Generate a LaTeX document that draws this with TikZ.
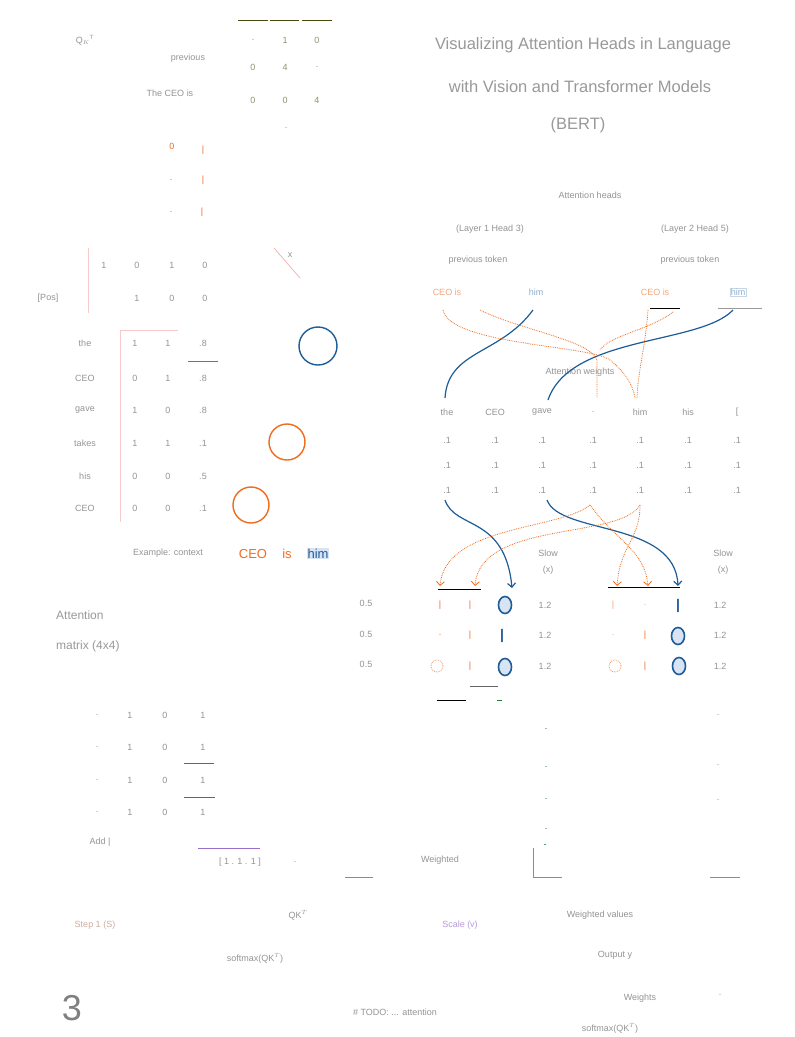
\documentclass[tikz,border=0pt]{standalone}
\usepackage{fontspec}
\setmainfont{Liberation Sans}
\usetikzlibrary{arrows.meta}
\definecolor{orn}{HTML}{F26B1D}
\definecolor{blu}{HTML}{1D5C97}
\definecolor{lblu}{HTML}{D8E3F4}
\definecolor{olv}{HTML}{4A4A10}
\definecolor{pnk}{HTML}{F6CACA}
\definecolor{prp}{HTML}{9A6FC8}
\definecolor{grn}{HTML}{1E7A3A}
\tikzset{
  faint/.style={text=black!42, font=\fontsize{9}{10}\selectfont, inner sep=1pt},
  faintl/.style={text=black!40, font=\fontsize{12}{14}\selectfont, inner sep=1pt},
  otxt/.style={text=orn, font=\fontsize{9}{10}\selectfont, inner sep=1pt},
  ocirc/.style={draw=orn, line width=1.4pt, circle, minimum size=36pt, inner sep=0pt},
  bcirc/.style={draw=blu, line width=1.4pt, circle, minimum size=38pt, inner sep=0pt},
  bzero/.style={draw=blu, line width=1.6pt, fill=lblu, ellipse, minimum width=13pt, minimum height=17pt, inner sep=0pt},
  ozero/.style={draw=orn!70, line width=0.8pt, densely dotted, ellipse, minimum width=12pt, minimum height=12pt, inner sep=0pt},
  bline/.style={draw=blu, line width=1.2pt},
  oline/.style={draw=orn, line width=0.8pt, densely dotted},
  barrow/.style={draw=blu, line width=1.2pt, -{Straight Barb[length=4pt]}},
  oarrow/.style={draw=orn, line width=0.8pt, densely dotted, -{Straight Barb[length=4pt]}},
  rule/.style={line width=0.8pt},
  ttl/.style={text=black!40, font=\fontsize{16.5}{18}\selectfont, inner sep=1pt},
}
\usetikzlibrary{shapes.geometric}
\begin{document}
\begin{tikzpicture}[x=1pt,y=-1pt]
\useasboundingbox (0,0) rectangle (795,1037);
\fill[white] (0,0) rectangle (795,1037);

% ---------- top-left ----------
\node[faint] (qk) at (85,40) {Q$_{K}$\textsuperscript{T}};
\node[faint] (prev) at (188,58) {previous};
\node[faint] (tceo) at (170,93) {The CEO is};
\coordinate (u1a) at (238,20); \coordinate (u1b) at (268,20);
\coordinate (u2a) at (270,20); \coordinate (u2b) at (299,20);
\coordinate (u3a) at (302,20); \coordinate (u3b) at (332,20);
\draw[olv,rule] (u1a) -- (u1b); \draw[olv,rule] (u2a) -- (u2b); \draw[olv,rule] (u3a) -- (u3b);
\foreach \r/\y/\a/\b/\c in {1/40/./1/0,2/67/0/4/.,3/100/0/0/4}{
  \node[faint,text=olv!60] (m\r a) at (253,\y) {\a};
  \node[faint,text=olv!60] (m\r b) at (285,\y) {\b};
  \node[faint,text=olv!60] (m\r c) at (317,\y) {\c};
}
\node[faint] (dotm) at (286,128) {.};

\node[otxt] (oc1) at (172,146) {0};
\node[otxt] (ob1) at (203,150) {|};
\node[otxt] (oc2) at (171,180) {.};
\node[otxt] (ob2) at (203,180) {|};
\node[otxt] (oc3) at (171,212) {.};
\node[otxt] (ob3) at (202,212) {|};

% ---------- position vector ----------
\coordinate (pv1) at (88,248); \coordinate (pv2) at (88,313);
\draw[pnk,rule] (pv1) -- (pv2);
\node[faint] (p11) at (104,265) {1};
\node[faint] (p12) at (137,265) {0};
\node[faint] (p13) at (172,265) {1};
\node[faint] (p14) at (205,265) {0};
\node[faint] (pos) at (48,298) {[Pos]};
\node[faint] (p22) at (137,298) {1};
\node[faint] (p23) at (172,298) {0};
\node[faint] (p24) at (205,298) {0};
\coordinate (sl1) at (274,248); \coordinate (sl2) at (300,278);
\draw[pnk!80!red,line width=0.6pt] (sl1) -- (sl2);
\node[faint] (sx) at (290,255) {x};

% ---------- attention table ----------
\coordinate (tb0) at (120,330); \coordinate (tb1) at (178,330); \coordinate (tb2) at (120,522);
\draw[pnk,rule] (tb1) -- (tb0) -- (tb2);
\foreach \r/\y/\l/\a/\b/\c in {1/343/the/1/1/.8,2/378/CEO/0/1/.8,3/410/gave/1/0/.8,4/443/takes/1/1/.1,5/476/his/0/0/.5,6/508/CEO/0/0/.1}{
  \node[faint] (rl\r) at (85,\y) {\l};
  \node[faint] (ra\r) at (135,\y) {\a};
  \node[faint] (rb\r) at (168,\y) {\b};
  \node[faint] (rc\r) at (203,\y) {\c};
}
\coordinate (ul1) at (188,361); \coordinate (ul2) at (218,361);
\draw[black!55,rule] (ul1) -- (ul2);
\node[bcirc] (bc1) at (318,346) {};
\node[ocirc] (oc4) at (287,442) {};
\node[ocirc] (oc5) at (251,505) {};
\node[faint] (ex) at (168,553) {Example: context};
\node[text=orn, font=\fontsize{13}{15}\selectfont, inner sep=1pt, anchor=base] (ceo) at (253,558) {CEO};
\node[text=orn, font=\fontsize{13}{15}\selectfont, inner sep=1pt, anchor=base] (is) at (287,558) {is};
\node[text=blu, fill=lblu, font=\fontsize{13}{15}\selectfont, inner sep=1pt, anchor=base] (him) at (318,558) {him};

% ---------- attention matrix text ----------
\node[faintl, anchor=west] (am1) at (55,615) {Attention};
\node[faintl, anchor=west] (am2) at (55,646) {matrix (4x4)};
\node[faint] (v1) at (366,603) {0.5};
\node[faint] (v2) at (366,634) {0.5};
\node[faint] (v3) at (366,664) {0.5};

% ---------- lower-left 4x4 ----------
\foreach \r/\y in {1/715,2/747,3/780,4/812}{
  \node[faint] (q\r a) at (97,\y) {.};
  \node[faint] (q\r b) at (130,\y) {1};
  \node[faint] (q\r c) at (165,\y) {0};
  \node[faint] (q\r d) at (203,\y) {1};
}
\coordinate (l1a) at (184,763); \coordinate (l1b) at (214,763);
\coordinate (l2a) at (184,797); \coordinate (l2b) at (215,797);
\draw[black!60,rule] (l1a) -- (l1b); \draw[black!60,rule] (l2a) -- (l2b);
\node[faint] (add) at (100,842) {Add |};
\coordinate (pu1) at (198,848); \coordinate (pu2) at (260,848);
\draw[prp,rule] (pu1) -- (pu2);
\node[faint] (vec) at (240,862) {[ 1 . 1 . 1 ]};
\coordinate (g1a) at (345,877); \coordinate (g1b) at (373,877);
\draw[black!45,rule] (g1a) -- (g1b);
\node[faint] (sm) at (295,862) {.};

% ---------- title ----------
\node[ttl] (t1) at (583,45) {Visualizing Attention Heads in Language};
\node[ttl] (t2) at (580,87) {with Vision and Transformer Models};
\node[ttl] (t3) at (578,125) {(BERT)};

\node[faint] (ah) at (590,195) {Attention heads};
\node[faint] (h1) at (490,229) {(Layer 1 Head 3)};
\node[faint] (h2) at (695,229) {(Layer 2 Head 5)};
\node[faint] (pt1) at (478,260) {previous token};
\node[faint] (pt2) at (690,260) {previous token};
\node[faint,text=orn!60] (c1) at (447,292) {CEO is};
\node[faint,text=blu!50] (hm1) at (536,292) {him};
\node[faint,text=orn!60] (c2) at (655,292) {CEO is};
\node[faint,text=blu!50,draw=blu!25] (hm2) at (738,292) {him};
\coordinate (cu1) at (650,308); \coordinate (cu2) at (680,308);
\draw[black,rule] (cu1) -- (cu2);
\coordinate (hu1) at (718,308); \coordinate (hu2) at (762,308);
\draw[black!40,rule] (hu1) -- (hu2);

\node[faint] (aw) at (580,372) {Attention weights};

% table of weights
\foreach \c/\x/\h in {1/447/the,2/495/CEO,3/542/gave,4/593/.,5/640/him,6/688/his,7/737/[/]}{
  \node[faint] (wh\c) at (\x,412) {\h};
}
\foreach \r/\y in {1/440,2/465,3/490}{
  \foreach \c/\x in {1/447,2/495,3/542,4/593,5/640,6/688,7/737}{
    \node[faint] (w\r\c) at (\x,\y) {.1};
  }
}

% ---------- top connectors ----------
\coordinate (bt1) at (533,310);
\coordinate (bt2) at (733,310);
\coordinate (ot1) at (443,310);
\coordinate (ot2) at (480,310);
\coordinate (ot3) at (673,312);
\coordinate (ot4) at (648,310);
\coordinate (e1) at (445,398);
\coordinate (e2) at (548,400);
\coordinate (e3) at (597,398);
\coordinate (e4) at (635,398);
\draw[bline] (bt1) .. controls (500,355) and (448,350) .. (e1);
\draw[bline] (bt2) .. controls (700,345) and (570,335) .. (e2);
\draw[oline] (ot1) .. controls (450,345) and (590,345) .. (610,360) .. controls (625,372) and (633,385) .. (e4);
\draw[oline] (ot2) .. controls (520,330) and (590,340) .. (597,360) -- (e3);
\draw[oline] (ot3) .. controls (650,330) and (610,335) .. (600,350);
\draw[oline] (ot4) .. controls (645,350) and (638,370) .. (637,398);

% ---------- bottom small matrices ----------
\coordinate (s1) at (445,500);
\coordinate (s2) at (547,500);
\coordinate (s3) at (590,505);
\coordinate (s4) at (640,505);
\coordinate (a1) at (512,588);
\coordinate (a2) at (678,586);
\coordinate (a3) at (440,586);
\coordinate (a4) at (475,586);
\coordinate (a5) at (617,586);
\coordinate (a6) at (648,586);
\draw[barrow] (s1) .. controls (455,530) and (505,515) .. (a1);
\draw[barrow] (s2) .. controls (560,535) and (675,520) .. (a2);
\draw[oarrow] (s3) .. controls (560,530) and (445,525) .. (a3);
\draw[oarrow] (s4) .. controls (620,540) and (480,520) .. (a4);
\draw[oarrow] (s3) .. controls (615,540) and (645,550) .. (a6);
\draw[oarrow] (s4) .. controls (640,540) and (620,545) .. (a5);

\coordinate (hl1) at (438,589); \coordinate (hl2) at (481,589);
\draw[black,rule] (hl1) -- (hl2);
\coordinate (hr1) at (608,587); \coordinate (hr2) at (680,587);
\draw[black,rule] (hr1) -- (hr2);
\node[faint] (hd1) at (548,553) {Slow};
\node[faint] (hd1b) at (548,570) {(x)};
\node[faint] (hd2) at (723,553) {Slow};
\node[faint] (hd2b) at (723,570) {(x)};

% left small matrix
\node[otxt] (lo11) at (440,605) {|};
\node[otxt] (lo12) at (470,605) {|};
\node[bzero] (lb1) at (505,605) {};
\node[faint] (lv1) at (545,605) {1.2};
\node[otxt] (lo21) at (440,635) {.};
\node[otxt] (lo22) at (470,635) {|};
\node[text=blu, font=\bfseries\fontsize{14}{14}\selectfont, inner sep=0pt] (lb2) at (502,636) {|};
\node[faint] (lv2) at (545,635) {1.2};
\node[ozero] (lo31) at (437,666) {};
\node[otxt] (lo32) at (470,666) {|};
\node[bzero] (lb3) at (505,667) {};
\node[faint] (lv3) at (545,666) {1.2};

% right small matrix
\node[otxt,text=orn!60] (ro11) at (613,605) {|};
\node[otxt,text=orn!60] (ro12) at (645,605) {.};
\node[text=blu, font=\bfseries\fontsize{14}{14}\selectfont, inner sep=0pt] (rb1) at (678,606) {|};
\node[faint] (rv1) at (720,605) {1.2};
\node[otxt,text=orn!60] (ro21) at (613,635) {.};
\node[otxt] (ro22) at (645,635) {|};
\node[bzero] (rb2) at (678,636) {};
\node[faint] (rv2) at (720,635) {1.2};
\node[ozero] (ro31) at (615,666) {};
\node[otxt] (ro32) at (645,666) {|};
\node[bzero] (rb3) at (679,666) {};
\node[faint] (rv3) at (720,666) {1.2};

\coordinate (k1) at (437,700); \coordinate (k2) at (466,700);
\draw[black,rule] (k1) -- (k2);
\coordinate (k3) at (470,686); \coordinate (k4) at (498,686);
\draw[black!60,rule] (k3) -- (k4);
\coordinate (k5) at (497,700); \coordinate (k6) at (502,700);
\draw[grn,rule] (k5) -- (k6);

\foreach \y in {730,768,800,830}{ \node[faint,text=grn!60] at (546,\y) {-}; }
\foreach \y in {715,765,800}{ \node[faint] at (718,\y) {.}; }

% ---------- lower middle ----------
\node[faint] (ws) at (440,860) {Weighted};
\coordinate (br1) at (533,848); \coordinate (br2) at (533,877); \coordinate (br3) at (562,877);
\draw[black!45,rule] (br1) -- (br2) -- (br3);
\node[faint,text=grn] (gt) at (545,846) {-};
\coordinate (g3a) at (710,877); \coordinate (g3b) at (740,877);
\draw[black!45,rule] (g3a) -- (g3b);

% ---------- bottom texts ----------
\node[faint,text=orn!50!black!40] (st1) at (95,925) {Step 1 (S)};
\node[faint] (qkt) at (298,915) {QK$^T$};
\node[faint,text=prp!70] (scl) at (460,925) {Scale (v)};
\node[faint] (wv) at (600,915) {Weighted values};
\node[faint] (smx) at (255,958) {softmax(QK$^T$)};
\node[faint] (outy) at (615,955) {Output y};
\node[text=black!50, font=\fontsize{36}{36}\selectfont, inner sep=0pt] (three) at (72,1008) {3};
\node[faint] (todo) at (395,1012) {\# TODO: ... attention};
\node[faint] (wts) at (640,998) {Weights};
\node[faint] (dt) at (720,995) {.};
\node[faint] (smx2) at (610,1028) {softmax(QK$^T$)};
\end{tikzpicture}
\end{document}
